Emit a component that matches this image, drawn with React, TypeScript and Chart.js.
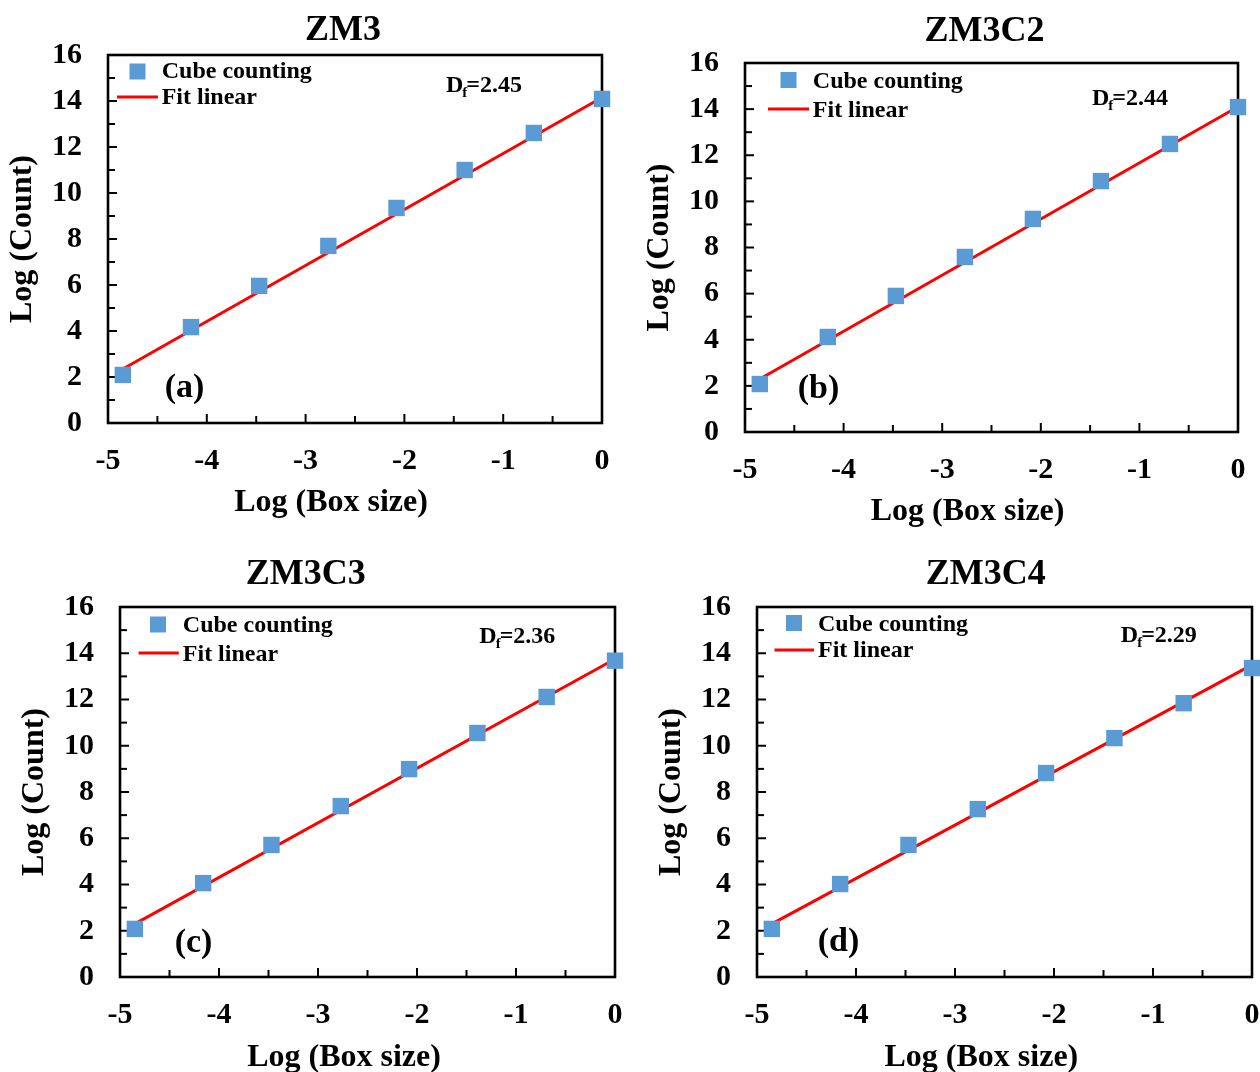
import React, { useEffect, useRef } from 'react';
import { Chart, registerables } from 'chart.js';

Chart.register(...registerables);

const FONT = '"Liberation Serif", "Times New Roman", Times, serif';

// ---- data ----
const boxSizeLog = [-4.85, -4.16, -3.47, -2.77, -2.08, -1.39, -0.69, 0];
const countZM3 = [2.09, 4.17, 5.96, 7.7, 9.35, 11.0, 12.61, 14.09];
const countZM3C2 = [2.08, 4.12, 5.9, 7.59, 9.24, 10.88, 12.49, 14.09];
const countZM3C3 = [2.08, 4.06, 5.71, 7.39, 8.99, 10.55, 12.11, 13.68];
const countZM3C4 = [2.08, 4.02, 5.71, 7.26, 8.82, 10.33, 11.84, 13.36];
const fitX = [-4.85, 0];
const fitZM3 = [2.35, 14.15];
const fitZM3C2 = [2.3, 14.1];
const fitZM3C3 = [2.3, 13.75];
const fitZM3C4 = [2.3, 13.5];
const panelTitles = ['ZM3', 'ZM3C2', 'ZM3C3', 'ZM3C4'];
const dfValues = ['2.45', '2.44', '2.36', '2.29'];
const panelLetters = ['(a)', '(b)', '(c)', '(d)'];
const legendLabels = ['Cube counting', 'Fit linear'];
const xAxisTitle = 'Log (Box size)';
const yAxisTitle = 'Log (Count)';
const xRange = [-5, 0];
const yRange = [0, 16];

const seriesList = [countZM3, countZM3C2, countZM3C3, countZM3C4];
const fitList = [fitZM3, fitZM3C2, fitZM3C3, fitZM3C4];

// ---- layout (page coordinates) ----
const layouts = [
  {
    left: 0, top: 0, w: 630, h: 540,
    area: { l: 108, t: 55, r: 602, b: 423 }, yTitleCenter: 23,
    title: { x: 343, y: 39.5 }, xTitle: { x: 331, y: 511 },
    sq: { x: 137.5, y: 71.5 }, text1: { x: 161.7, y: 78 },
    line: { x1: 117, x2: 158, y: 97 }, text2: { x: 161.7, y: 104 },
    df: { x: 446, y: 92 }, letter: { x: 184.5, y: 388 },
  },
  {
    left: 630, top: 0, w: 630, h: 540,
    area: { l: 745, t: 63, r: 1238, b: 432 }, yTitleCenter: 660,
    title: { x: 984.6, y: 41 }, xTitle: { x: 967.6, y: 520 },
    sq: { x: 788.5, y: 80 }, text1: { x: 812.8, y: 87.5 },
    line: { x1: 768, x2: 809, y: 109 }, text2: { x: 812.8, y: 116.5 },
    df: { x: 1092, y: 105 }, letter: { x: 818.5, y: 389 },
  },
  {
    left: 0, top: 540, w: 630, h: 532,
    area: { l: 120, t: 607, r: 615, b: 977 }, yTitleCenter: 35,
    title: { x: 305.7, y: 583.5 }, xTitle: { x: 344, y: 1066 },
    sq: { x: 158, y: 624.5 }, text1: { x: 182.8, y: 631.5 },
    line: { x1: 138.6, x2: 178.8, y: 653 }, text2: { x: 182.8, y: 660.5 },
    df: { x: 479.3, y: 643 }, letter: { x: 193.5, y: 943 },
  },
  {
    left: 630, top: 540, w: 630, h: 532,
    area: { l: 757, t: 607, r: 1252, b: 977 }, yTitleCenter: 672,
    title: { x: 985.7, y: 583.5 }, xTitle: { x: 981.4, y: 1066 },
    sq: { x: 794, y: 623 }, text1: { x: 818, y: 630.5 },
    line: { x1: 774.5, x2: 814, y: 650 }, text2: { x: 818, y: 657 },
    df: { x: 1120.8, y: 642 }, letter: { x: 838.5, y: 942 },
  },
];

const BLUE = '#5B9BD5';
const RED = '#FF0000';

function makeDecor(i: number) {
  const L = layouts[i];
  const ox = L.left;
  const oy = L.top;
  return {
    id: 'decor' + i,
    beforeDatasetsDraw(chart: any) {
      const { ctx, chartArea } = chart;
      const xs = chart.scales.x;
      const ys = chart.scales.y;
      ctx.save();
      ctx.strokeStyle = '#000';
      ctx.lineWidth = 2;
      // inward ticks on bottom axis
      for (let k = 0; k <= (xRange[1] - xRange[0]) * 2; k++) {
        const v = xRange[0] + k * 0.5;
        const px = xs.getPixelForValue(v);
        const len = k % 2 === 0 ? 9 : 7;
        ctx.beginPath();
        ctx.moveTo(px, chartArea.bottom);
        ctx.lineTo(px, chartArea.bottom - len);
        ctx.stroke();
      }
      // inward ticks on left axis
      for (let v = yRange[0]; v <= yRange[1]; v++) {
        const py = ys.getPixelForValue(v);
        const len = v % 2 === 0 ? 9 : 7;
        ctx.beginPath();
        ctx.moveTo(chartArea.left, py);
        ctx.lineTo(chartArea.left + len, py);
        ctx.stroke();
      }
      ctx.lineWidth = 2.6;
      ctx.strokeRect(chartArea.left, chartArea.top, chartArea.right - chartArea.left, chartArea.bottom - chartArea.top);
      ctx.restore();
    },
    afterDraw(chart: any) {
      const { ctx } = chart;
      ctx.save();
      ctx.fillStyle = '#000';
      ctx.textBaseline = 'alphabetic';
      // panel title
      ctx.font = `bold 36px ${FONT}`;
      ctx.textAlign = 'center';
      ctx.fillText(panelTitles[i], L.title.x - ox, L.title.y - oy);
      // x axis title
      ctx.font = `bold 32px ${FONT}`;
      ctx.fillText(xAxisTitle, L.xTitle.x - ox, L.xTitle.y - oy);
      // legend
      ctx.fillStyle = BLUE;
      ctx.fillRect(L.sq.x - ox - 8, L.sq.y - oy - 8, 16, 16);
      ctx.strokeStyle = RED;
      ctx.lineWidth = 3;
      ctx.beginPath();
      ctx.moveTo(L.line.x1 - ox, L.line.y - oy);
      ctx.lineTo(L.line.x2 - ox, L.line.y - oy);
      ctx.stroke();
      ctx.fillStyle = '#000';
      ctx.textAlign = 'left';
      ctx.font = `bold 24px ${FONT}`;
      ctx.fillText(legendLabels[0], L.text1.x - ox, L.text1.y - oy);
      ctx.fillText(legendLabels[1], L.text2.x - ox, L.text2.y - oy);
      // D_f annotation
      ctx.font = `bold 24px ${FONT}`;
      const dx = L.df.x - ox;
      const dy = L.df.y - oy;
      ctx.fillText('D', dx, dy);
      const wD = ctx.measureText('D').width;
      ctx.font = `bold 15px ${FONT}`;
      ctx.fillText('f', dx + wD - 1, dy + 5);
      const wf = ctx.measureText('f').width;
      ctx.font = `bold 24px ${FONT}`;
      ctx.fillText('=' + dfValues[i], dx + wD + wf - 2, dy);
      // panel letter
      ctx.font = `bold 34px ${FONT}`;
      ctx.textAlign = 'center';
      ctx.textBaseline = 'middle';
      ctx.fillText(panelLetters[i], L.letter.x - ox, L.letter.y - oy);
      ctx.restore();
    },
  };
}

function Panel({ index }: { index: number }) {
  const ref = useRef<HTMLCanvasElement | null>(null);
  const L = layouts[index];
  useEffect(() => {
    if (!ref.current) return;
    const yWidth = L.area.l - L.left;
    const xHeight = L.top + L.h - L.area.b;
    const series = seriesList[index];
    const fit = fitList[index];
    const chart = new Chart(ref.current, {
      type: 'scatter',
      data: {
        datasets: [
          {
            label: legendLabels[0],
            data: boxSizeLog.map((x, k) => ({ x, y: series[k] })),
            pointStyle: 'rect',
            pointRadius: 11.6,
            pointHoverRadius: 11.6,
            backgroundColor: BLUE,
            borderColor: BLUE,
            pointBorderWidth: 0,
            clip: false as any,
          },
          {
            label: legendLabels[1],
            data: fitX.map((x, k) => ({ x, y: fit[k] })),
            showLine: true,
            borderColor: RED,
            borderWidth: 3,
            pointRadius: 0,
            fill: false,
            clip: false as any,
          },
        ],
      },
      options: {
        responsive: false,
        animation: false,
        devicePixelRatio: 1,
        layout: {
          autoPadding: false,
          padding: {
            left: 0,
            top: L.area.t - L.top,
            right: L.left + L.w - L.area.r,
            bottom: 0,
          },
        },
        plugins: {
          legend: { display: false },
          title: { display: false },
          tooltip: { enabled: false },
        },
        scales: {
          x: {
            type: 'linear',
            min: xRange[0],
            max: xRange[1],
            grid: { display: false, drawTicks: true, tickLength: 20 },
            border: { display: false },
            ticks: {
              stepSize: 1,
              padding: 0,
              color: '#000',
              font: { family: FONT, size: 30, weight: 'bold' },
            },
            afterFit: (s: any) => {
              s.height = xHeight;
            },
          },
          y: {
            type: 'linear',
            min: yRange[0],
            max: yRange[1],
            grid: { display: false, drawTicks: true, tickLength: 26 },
            border: { display: false },
            ticks: {
              stepSize: 2,
              padding: 0,
              color: '#000',
              font: { family: FONT, size: 30, weight: 'bold' },
            },
            title: {
              display: true,
              text: yAxisTitle,
              color: '#000',
              font: { family: FONT, size: 32, weight: 'bold' },
              padding: { top: L.yTitleCenter - L.left - 19.2, bottom: 0 },
            },
            afterFit: (s: any) => {
              s.width = yWidth;
            },
          },
        },
      } as any,
      plugins: [makeDecor(index)],
    });
    return () => chart.destroy();
  }, [index]);
  return (
    <canvas
      ref={ref}
      width={L.w}
      height={L.h}
      style={{ position: 'absolute', left: L.left, top: L.top, width: L.w, height: L.h }}
    />
  );
}

export default function App() {
  return (
    <div
      style={{
        position: 'absolute',
        left: 0,
        top: 0,
        width: 1260,
        height: 1072,
        background: '#fff',
        overflow: 'hidden',
      }}
    >
      {layouts.map((_, i) => (
        <Panel key={i} index={i} />
      ))}
    </div>
  );
}
